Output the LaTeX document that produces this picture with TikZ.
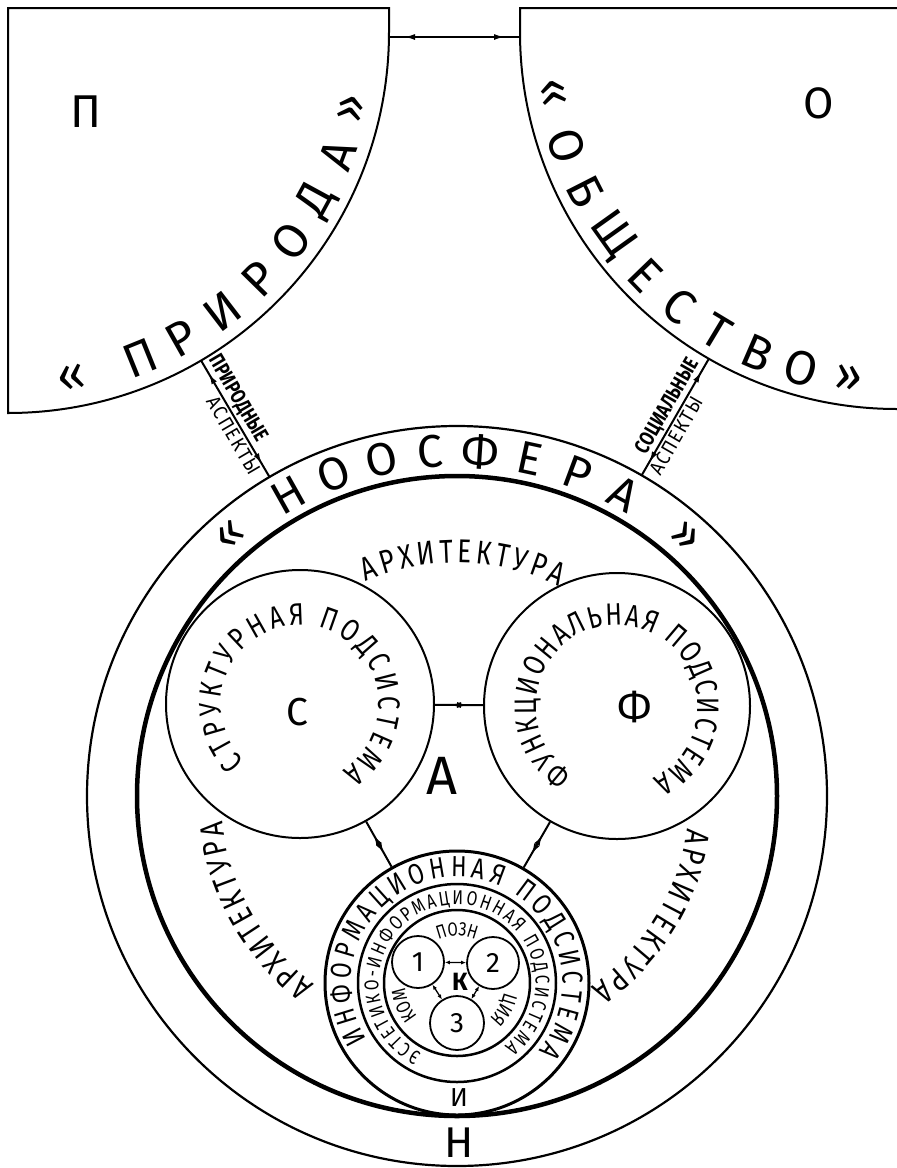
\documentclass[tikz,border=0pt]{standalone}
\usepackage{fontspec}
\usetikzlibrary{calc,decorations.text,decorations.markings,arrows.meta}
\IfFontExistsTF{FiraSans-Light.otf}{%
  \newfontfamily\fLight{FiraSans-Light.otf}%
  \newfontfamily\fLightC{FiraSans-Light.otf}[FakeStretch=0.8]%
}{%
  \newfontfamily\fLight{Fira Sans}%
  \newfontfamily\fLightC{Fira Sans}[FakeStretch=0.8]%
}
\setmainfont{Fira Sans}
\newfontfamily\fReg{Fira Sans}
\newfontfamily\fRegC{Fira Sans}[FakeStretch=0.78]
\newfontfamily\fRegS{Fira Sans}[FakeStretch=0.9,LetterSpace=8]
\newcommand{\fsz}[1]{\fontsize{#1pt}{#1pt}\selectfont}
\begin{document}
\begin{tikzpicture}[x=1pt,y=1pt,line width=2pt,
  bi/.style={postaction={decorate},decoration={markings,
     mark=at position 15pt with {\arrowreversed{Latex[length=11pt,width=6pt]}},
     mark=at position -15pt with {\arrow{Latex[length=11pt,width=6pt]}}}},
  sbi/.style={line width=1.3pt,{Latex[length=5pt,width=4pt]}-{Latex[length=5pt,width=4pt]}},
  ring/.style={draw,circle,inner sep=0pt},
  boxline/.style={line width=2pt},
  arcl/.style={font=\fLight\fsz{48},inner sep=0pt},
  nool/.style={font=\fLight\fsz{46},inner sep=0pt},
  lbl/.style={font=\fLight\fsz{40},inner sep=0pt},
]
\fill[white] (0,0) rectangle (897,-1168);
\useasboundingbox (0,0) rectangle (897,-1168);

\coordinate (Pc) at (8,-32);
\coordinate (Oc) at (897,-32);
\coordinate (Nc) at (457,-796);

% boxes
\draw[boxline] (8,-8) -- (389,-8) -- (389,-32) arc[start angle=0,end angle=-90,radius=381pt] -- cycle;
\draw[boxline] (897,-8) -- (520,-8) -- (520,-32) arc[start angle=180,end angle=270,radius=377pt];
\node[font=\fReg\fsz{46},inner sep=0pt] (lP) at (86,-112) {П};
\node[font=\fLight\fsz{44},inner sep=0pt] (lO) at (819,-103) {О};
\coordinate (Pe) at (389,-37);
\coordinate (Oe) at (520,-37);
\draw[bi] (Pe) -- (Oe);

% arc words
\foreach \a/\l [count=\i] in {-79.5/«,-68/П,-60.5/Р,-52.5/И,-44.5/Р,-36.5/О,-28.5/Д,-20.5/А,-12.5/»}
  \node[arcl,rotate=\a+90] (pl\i) at ($(Pc)+(\a:352pt)$) {\l};
\foreach \a/\l [count=\i] in {190/«,199/О,207/Б,215.5/Щ,224/Е,231.5/С,239/Т,246.5/В,254/О,262/»}
  \node[arcl,rotate=\a+90] (ol\i) at ($(Oc)+(\a:350pt)$) {\l};

% noosphere circles
\node[ring,minimum size=740pt,line width=2.2pt] (N) at (Nc) {};
\node[ring,minimum size=640pt,line width=4.5pt] (A) at (Nc) {};
\foreach \a/\l [count=\i] in {131/«,119.3/Н,111/О,102.7/О,94.4/С,86.1/Ф,77.8/Е,69.5/Р,61.2/А,48.6/»}
  \node[nool,rotate=\a-90] (nl\i) at ($(Nc)+(\a:345pt)$) {\l};

% aspects connectors
\coordinate (pa) at ($(Pc)!381pt!(Nc)$);
\coordinate (pb) at ($(Nc)!370pt!(Pc)$);
\coordinate (oa) at ($(Oc)!377pt!(Nc)$);
\coordinate (ob) at ($(Nc)!370pt!(Oc)$);
\draw[bi] (pa) -- (pb);
\draw[bi] (oa) -- (ob);
\path (pa) -- (pb)
  node[pos=0.38,sloped,above,font=\fRegC\bfseries\fsz{21},inner sep=2pt] (tpr) {ПРИРОДНЫЕ}
  node[pos=0.60,sloped,below,font=\fRegS\fsz{20},inner sep=2pt] (tpa) {АСПЕКТЫ};
\path (oa) -- (ob)
  node[pos=0.46,sloped,above,font=\fRegC\bfseries\fsz{21},inner sep=2pt] (tso) {СОЦИАЛЬНЫЕ}
  node[pos=0.62,sloped,below,font=\fRegS\fsz{20},inner sep=2pt] (tsa) {АСПЕКТЫ};

% architecture words
\path[decorate,decoration={text along path,text align={fit to path},text={|\fRegC\fsz{33}|АРХИТЕКТУРА}}]
  ($(Nc)+(113:233pt)$) arc[start angle=113,end angle=64,radius=233pt];
\path[decorate,decoration={text along path,text align={fit to path},text={|\fRegC\fsz{33}|АРХИТЕКТУРА}}]
  ($(Nc)+(233:236pt)$) arc[start angle=233,end angle=186,radius=236pt];
\path[decorate,decoration={text along path,text align={fit to path},text={|\fRegC\fsz{33}|АРХИТЕКТУРА}}]
  ($(Nc)+(-8:233pt)$) arc[start angle=-8,end angle=-55,radius=233pt];

% subsystems
\node[ring,minimum size=268pt] (S) at (300,-704) {};
\node[ring,minimum size=266pt] (F) at (617,-706) {};
\node[lbl,font=\fLight\fsz{39}] (lS) at (297,-712) {С};
\node[lbl,font=\fLight\fsz{42}] (lF) at (635,-707) {Ф};
\node[lbl,font=\fLight\fsz{54}] (lA) at (442,-776) {А};
\path[decorate,decoration={text along path,text align={fit to path},text={|\fRegC\fsz{31}|СТРУКТУРНАЯ ПОДСИСТЕМА}}]
  ($(S)+(226:79pt)$) arc[start angle=226,end angle=-58,radius=79pt];
\path[decorate,decoration={text along path,text align={fit to path},text={|\fRegC\fsz{31}|ФУНКЦИОНАЛЬНАЯ ПОДСИСТЕМА}}]
  ($(F)+(237:81pt)$) arc[start angle=237,end angle=-64,radius=81pt];

% information subsystem
\node[ring,minimum size=264pt,line width=3pt] (I) at (457,-983) {};
\node[ring,minimum size=198pt,line width=2.5pt] (I2) at (457,-983) {};
\node[ring,minimum size=146pt,line width=2.5pt] (I3) at (457,-983) {};
\draw[bi] (S) -- (I);
\draw[bi] (F) -- (I);
\draw[bi] (S) -- (F);
\path[decorate,decoration={text along path,text align={fit to path},text={|\fRegC\fsz{29}|ИНФОРМАЦИОННАЯ ПОДСИСТЕМА}}]
  ($(I)+(212:106pt)$) arc[start angle=212,end angle=-40,radius=106pt];
\path[decorate,decoration={text along path,text align={fit to path},text={|\fRegC\fsz{20}|ЭСТЕТИКО-ИНФОРМАЦИОННАЯ ПОДСИСТЕМА}}]
  ($(I)+(243:78.5pt)$) arc[start angle=243,end angle=-53,radius=78.5pt];
\path[decorate,decoration={text along path,text align=center,text={|\fRegC\fsz{19}|ПОЗН}}]
  ($(I)+(130:47pt)$) arc[start angle=130,end angle=50,radius=47pt];
\path[decorate,decoration={text along path,text align=center,text={|\fRegC\fsz{20}|КОМ}}]
  ($(I)+(240:52pt)$) arc[start angle=240,end angle=165,radius=52pt];
\path[decorate,decoration={text along path,text align=center,text={|\fRegC\fsz{20}|ЦИЯ}}]
  ($(I)+(10:48pt)$) arc[start angle=10,end angle=-69,radius=48pt];

\node[ring,fill=white,minimum size=52pt,line width=1.8pt] (c1) at (418,-962) {};
\node[ring,fill=white,minimum size=52pt,line width=1.8pt] (c2) at (493,-963) {};
\node[ring,fill=white,minimum size=54pt,line width=1.8pt] (c3) at (457,-1023) {};
\node[font=\fReg\fsz{28},inner sep=0pt] (l1) at (c1) {1};
\node[font=\fReg\fsz{28},inner sep=0pt] (l2) at (c2) {2};
\node[font=\fReg\fsz{28},inner sep=0pt] (l3) at (c3) {3};
\draw[sbi] (c1) -- (c2);
\draw[sbi] (c1) -- (c3);
\draw[sbi] (c2) -- (c3);
\node[font=\fReg\bfseries\fsz{25},inner sep=0pt] (lK) at (460,-982) {К};

\node[font=\fReg\fsz{26},inner sep=0pt] (lI) at (459,-1098) {И};
\node[font=\fLight\fsz{43},inner sep=0pt] (lN) at (459,-1143) {Н};
\end{tikzpicture}
\end{document}
